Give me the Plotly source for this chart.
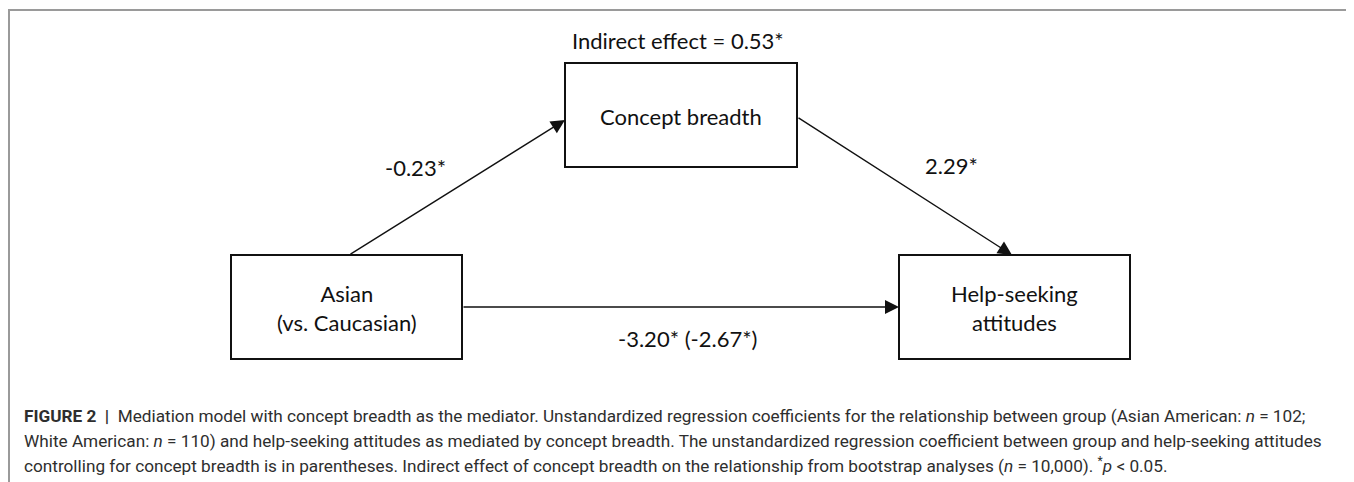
import plotly.graph_objects as go

# ---- data ----
node_labels = ["Asian<br>(vs. Caucasian)", "Concept breadth", "Help-seeking<br>attitudes"]
path_labels = ["-0.23*", "2.29*", "-3.20* (-2.67*)"]
indirect_label = "Indirect effect = 0.53*"
caption_lines = [
    "<b>FIGURE 2</b>&nbsp; <b>|</b>&nbsp; Mediation model with concept breadth as the mediator. Unstandardized regression coefficients for the relationship between group (Asian American: <i>n</i> = 102;",
    "White American: <i>n</i> = 110) and help-seeking attitudes as mediated by concept breadth. The unstandardized regression coefficient between group and help-seeking attitudes",
    "controlling for concept breadth is in parentheses. Indirect effect of concept breadth on the relationship from bootstrap analyses (<i>n</i> = 10,000). <sup>*</sup><i>p</i> &lt; 0.05.",
]

# ---- layout geometry (page pixels) ----
PAGE_W, PAGE_H = 1354, 482
OFF = 8  # default body margin of the html page
W, H = PAGE_W - OFF, PAGE_H - OFF
boxes = {  # x0, y0, x1, y1
    "asian": (231, 255, 462, 359),
    "concept": (565, 63, 797, 167),
    "help": (899, 255, 1130, 359),
}
box_keys = ["asian", "concept", "help"]

DIAG_FONT = "Lato, Carlito, Calibri, sans-serif"
CAP_FONT = "Roboto, Arial, sans-serif"
INK = "#111111"

fig = go.Figure()
fig.add_trace(go.Scatter(x=[OFF, PAGE_W], y=[OFF, PAGE_H], mode="markers", marker=dict(opacity=0),
                         hoverinfo="skip", showlegend=False))

shapes = []
# frame
shapes.append(dict(type="line", x0=8, y0=10, x1=1353, y1=10, line=dict(color="#9a9a9a", width=2)))
shapes.append(dict(type="line", x0=9, y0=10, x1=9, y1=PAGE_H, line=dict(color="#9a9a9a", width=2)))
shapes.append(dict(type="line", x0=1352, y0=10, x1=1352, y1=PAGE_H, line=dict(color="#dddddd", width=1)))
for k in box_keys:
    x0, y0, x1, y1 = boxes[k]
    shapes.append(dict(type="rect", x0=x0, y0=y0, x1=x1, y1=y1, line=dict(color=INK, width=2), fillcolor="white"))

annotations = []
# node labels
for k, lab in zip(box_keys, node_labels):
    x0, y0, x1, y1 = boxes[k]
    annotations.append(dict(x=(x0 + x1) / 2, y=(y0 + y1) / 2 + 1, text=lab, showarrow=False,
                            font=dict(family=DIAG_FONT, size=22, color=INK),
                            xanchor="center", yanchor="middle"))

# arrows: (tip, tail)
arrows = [
    ((565, 120), (349, 255)),
    ((1012, 255), (797, 117)),
    ((899, 307), (462, 307)),
]
for (tx, ty), (sx, sy) in arrows:
    annotations.append(dict(x=tx, y=ty, ax=sx, ay=sy, xref="x", yref="y", axref="x", ayref="y",
                            text="", showarrow=True, arrowhead=2, arrowsize=2.0, arrowwidth=1.4,
                            arrowcolor=INK, standoff=0, startstandoff=0))

# path labels
label_pos = [(415, 167), (951, 165), (687, 338)]
for (lx, ly), lab in zip(label_pos, path_labels):
    annotations.append(dict(x=lx, y=ly, text=lab, showarrow=False,
                            font=dict(family=DIAG_FONT, size=22, color=INK),
                            xanchor="center", yanchor="middle"))
annotations.append(dict(x=678, y=40, text=indirect_label, showarrow=False,
                        font=dict(family=DIAG_FONT, size=22, color=INK),
                        xanchor="center", yanchor="middle"))

# caption
cap_y = [416, 441, 465]
for cy, line in zip(cap_y, caption_lines):
    annotations.append(dict(x=22, y=cy, text=line, showarrow=False, xanchor="left", yanchor="middle",
                            font=dict(family=CAP_FONT, size=17.2, color="#2e2e2e")))

fig.update_layout(
    width=W, height=H, margin=dict(l=0, r=0, t=0, b=0),
    paper_bgcolor="white", plot_bgcolor="white",
    xaxis=dict(range=[OFF, PAGE_W], visible=False, fixedrange=True),
    yaxis=dict(range=[PAGE_H, OFF], visible=False, fixedrange=True),
    shapes=shapes, annotations=annotations, showlegend=False,
)
fig.write_html("out.html")
